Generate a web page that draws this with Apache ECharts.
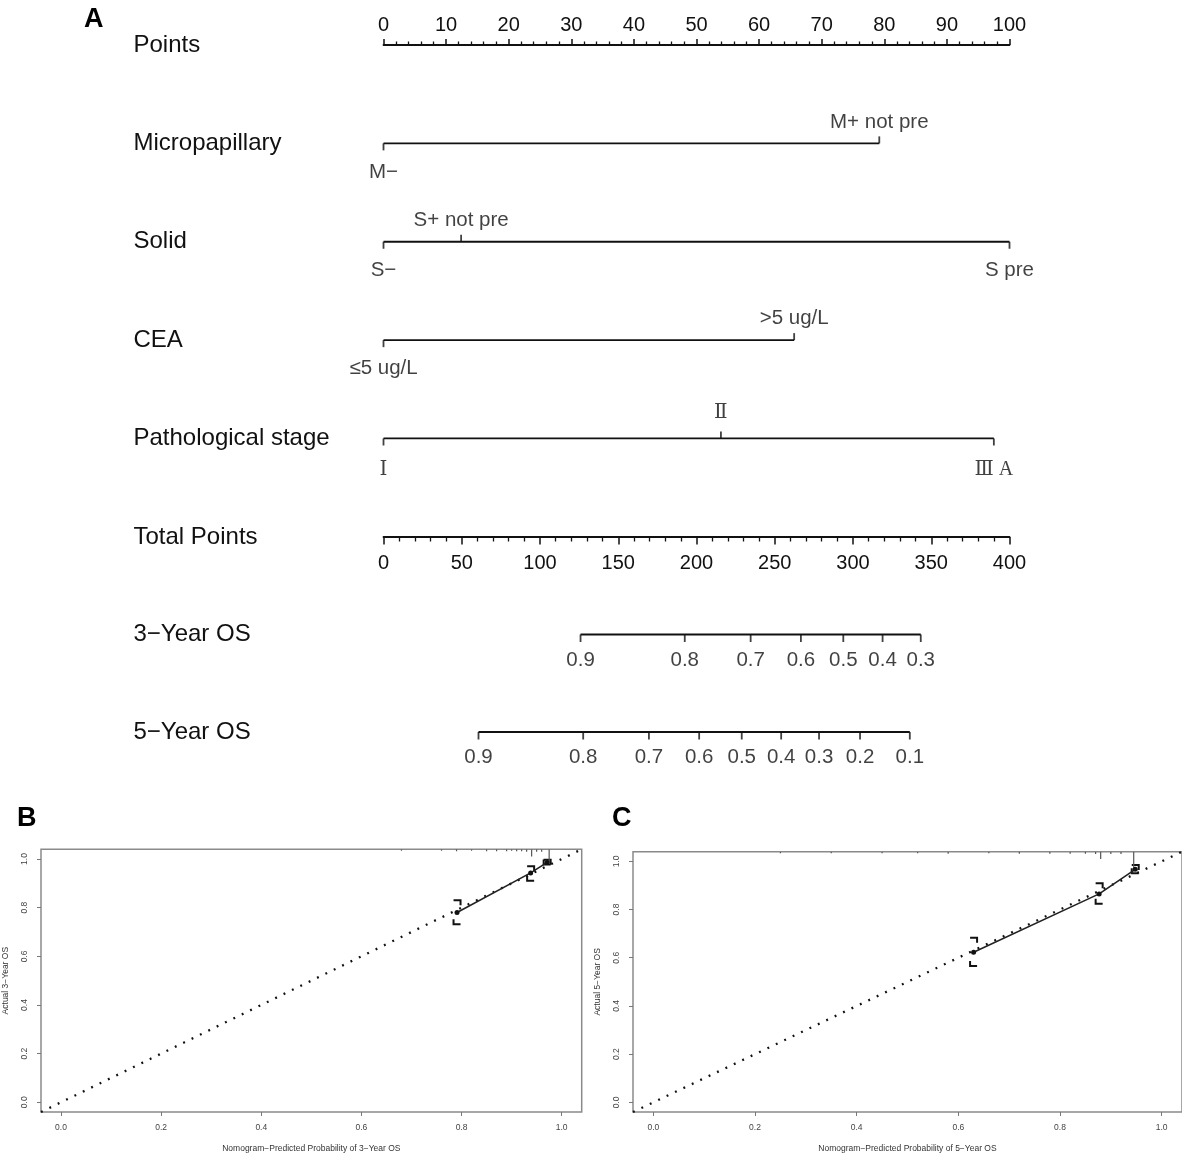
<!DOCTYPE html>
<html>
<head>
<meta charset="utf-8">
<script src="https://cdn.jsdelivr.net/npm/echarts@6/dist/echarts.min.js"></script>
<style>
html,body{margin:0;padding:0;background:#fff;}
#chart{width:1182px;height:1154px;}
</style>
</head>
<body>
<div id="chart"></div>
<script>
// ---------- Nomogram data ----------
const rowNamesTop = ['Points', 'Micropapillary', 'Solid', 'CEA', 'Pathological stage'];
const rowNamesBottom = ['Total Points', '3\u2212Year OS', '5\u2212Year OS'];

const pointsRange = [0, 100];
const totalPointsRange = [0, 400];

const microLevels = ['M\u2212', 'M+ not pre'];
const microPoints = [0, 79.2];
const solidLevels = ['S\u2212', 'S+ not pre', 'S pre'];
const solidPoints = [0, 12.4, 100];
const ceaLevels = ['\u22645 ug/L', '>5 ug/L'];
const ceaPoints = [0, 65.6];
const stageLevels = ['\u2160', '\u2161', '\u2162 A'];
const stagePoints = [0, 53.9, 97.5];

const os3Labels = ['0.9', '0.8', '0.7', '0.6', '0.5', '0.4', '0.3'];
const os3TotalPoints = [125.9, 192.5, 234.6, 266.7, 293.8, 318.9, 343.3];
const os5Labels = ['0.9', '0.8', '0.7', '0.6', '0.5', '0.4', '0.3', '0.2', '0.1'];
const os5TotalPoints = [60.7, 127.6, 169.6, 201.7, 228.9, 254.1, 278.3, 304.5, 336.3];

// ---------- Calibration data ----------
const calTicks = [0, 0.2, 0.4, 0.6, 0.8, 1.0];
const calRange = [-0.04, 1.04];

const cal3Pred = [0.791, 0.938, 0.971];
const cal3Obs  = [0.780, 0.943, 0.986];
const cal3Lo   = [0.732, 0.911, 0.978];
const cal3Hi   = [0.831, 0.970, 0.997];
const rug3X = [0.68, 0.76, 0.79, 0.82, 0.85, 0.87, 0.89, 0.90, 0.91, 0.92, 0.93, 0.94, 0.95, 0.96, 0.975];
const rug3H = [0.006, 0.006, 0.008, 0.006, 0.008, 0.008, 0.008, 0.006, 0.008, 0.008, 0.01, 0.03, 0.01, 0.01, 0.055];

const cal5Pred = [0.630, 0.877, 0.948];
const cal5Obs  = [0.623, 0.865, 0.967];
const cal5Lo   = [0.566, 0.824, 0.951];
const cal5Hi   = [0.683, 0.909, 0.985];
const rug5X = [0.25, 0.35, 0.45, 0.52, 0.58, 0.66, 0.72, 0.78, 0.82, 0.85, 0.87, 0.88, 0.90, 0.92, 0.945];
const rug5H = [0.006, 0.006, 0.006, 0.006, 0.008, 0.006, 0.008, 0.008, 0.008, 0.008, 0.01, 0.03, 0.01, 0.01, 0.07];

// ---------- Styling ----------
const SANS = '"Liberation Sans", Arial, Helvetica, sans-serif';
const SERIF = '"Liberation Serif", "DejaVu Serif", "Times New Roman", serif';
const INK = '#111111';

const chart = echarts.init(document.getElementById('chart'), null, {renderer: 'canvas'});

function variableSeries(levels, pts, row, serif) {
  const lo = Math.min.apply(null, pts), hi = Math.max.apply(null, pts);
  const line = {
    type: 'line', xAxisIndex: 0, yAxisIndex: 0, silent: true,
    data: [[lo, row], [hi, row]], symbol: 'none',
    lineStyle: {color: INK, width: 1.8}
  };
  const ticks = {
    type: 'scatter', xAxisIndex: 0, yAxisIndex: 0, silent: true,
    symbol: 'rect', symbolSize: [1.8, 7],
    itemStyle: {color: INK},
    data: pts.map(function (p, i) {
      const down = (i % 2 === 0);
      return {
        value: [p, row], name: levels[i],
        symbolOffset: [0, down ? 3.5 : -3.5],
        label: {
          show: true, position: down ? 'bottom' : 'top',
          distance: serif ? (down ? 14 : 9) : (down ? 11 : 4),
          formatter: '{b}', color: INK,
          fontFamily: serif ? SERIF : SANS, fontSize: serif ? 20 : 20.5
        }
      };
    })
  };
  return [line, ticks];
}

function osSeries(labels, pts, row) {
  const lo = Math.min.apply(null, pts), hi = Math.max.apply(null, pts);
  return [{
    type: 'line', xAxisIndex: 1, yAxisIndex: 1, silent: true,
    data: [[lo, row], [hi, row]], symbol: 'none',
    lineStyle: {color: INK, width: 1.8}
  }, {
    type: 'scatter', xAxisIndex: 1, yAxisIndex: 1, silent: true,
    symbol: 'rect', symbolSize: [1.8, 7.5],
    itemStyle: {color: INK},
    data: pts.map(function (p, i) {
      return {
        value: [p, row], name: labels[i], symbolOffset: [0, 3.75],
        label: {show: true, position: 'bottom', distance: 7.5, formatter: '{b}',
                color: INK, fontFamily: SANS, fontSize: 20.5}
      };
    })
  }];
}

function calAxisX(idx, name) {
  return {
    type: 'value', gridIndex: idx, min: calRange[0], max: calRange[1],
    name: name, nameLocation: 'middle', nameGap: 32,
    nameTextStyle: {fontFamily: SANS, fontSize: 8.5, color: '#333'},
    axisLine: {show: false, onZero: false},
    axisTick: {show: true, customValues: calTicks, length: 4, lineStyle: {color: '#777'}},
    axisLabel: {show: true, customValues: calTicks, margin: 11, fontFamily: SANS, fontSize: 8.5,
                color: '#444', formatter: function (v) { return v.toFixed(1); }},
    splitLine: {show: false}
  };
}
function calAxisY(idx, name) {
  return {
    type: 'value', gridIndex: idx, min: calRange[0], max: calRange[1],
    name: name, nameLocation: 'middle', nameGap: 31,
    nameTextStyle: {fontFamily: SANS, fontSize: 8.5, color: '#333'},
    axisLine: {show: false, onZero: false},
    axisTick: {show: true, customValues: calTicks, length: 4, lineStyle: {color: '#777'}},
    axisLabel: {show: true, customValues: calTicks, rotate: 90, margin: 12, fontFamily: SANS,
                fontSize: 8.5, color: '#444', formatter: function (v) { return v.toFixed(1); }},
    splitLine: {show: false}
  };
}

function calSeries(gi, pred, obs, lo, hi, rugX, rugH) {
  const axisIdx = {xAxisIndex: gi, yAxisIndex: gi};
  return [
    Object.assign({
      type: 'line', silent: true, symbol: 'none',
      data: [[calRange[0], calRange[0]], [calRange[1], calRange[1]]],
      lineStyle: {color: '#111', width: 2.3, type: [1.9, 7.4]}
    }, axisIdx),
    Object.assign({
      type: 'line', silent: true, symbol: 'circle', symbolSize: 5,
      data: pred.map(function (p, i) { return [p, obs[i]]; }),
      itemStyle: {color: '#111'},
      lineStyle: {color: '#222', width: 1.6}
    }, axisIdx),
    Object.assign({
      type: 'custom', silent: true, clip: true,
      data: pred.map(function (p, i) { return [p, lo[i], hi[i]]; }),
      renderItem: function (params, api) {
        const t = api.coord([api.value(0), api.value(2)]);
        const b = api.coord([api.value(0), api.value(1)]);
        const w = 3.5, s = 5;
        const st = {stroke: '#111', lineWidth: 2, fill: null};
        return {type: 'group', children: [
          {type: 'polyline', shape: {points: [[t[0] - w, t[1]], [t[0] + w, t[1]], [t[0] + w, t[1] + s]]}, style: st},
          {type: 'polyline', shape: {points: [[b[0] - w, b[1] - s], [b[0] - w, b[1]], [b[0] + w, b[1]]]}, style: st}
        ]};
      }
    }, axisIdx),
    Object.assign({
      type: 'custom', silent: true, clip: true,
      data: rugX.map(function (x, i) { return [x, rugH[i]]; }),
      renderItem: function (params, api) {
        const a = api.coord([api.value(0), calRange[1]]);
        const b = api.coord([api.value(0), calRange[1] - api.value(1)]);
        return {type: 'line', shape: {x1: a[0], y1: a[1], x2: b[0], y2: b[1]},
                style: {stroke: '#555', lineWidth: 1.2}};
      }
    }, axisIdx)
  ];
}

let series = [];
series = series.concat(variableSeries(microLevels, microPoints, 1, false));
series = series.concat(variableSeries(solidLevels, solidPoints, 2, false));
series = series.concat(variableSeries(ceaLevels, ceaPoints, 3, false));
series = series.concat(variableSeries(stageLevels, stagePoints, 4, true));
series = series.concat(osSeries(os3Labels, os3TotalPoints, 1));
series = series.concat(osSeries(os5Labels, os5TotalPoints, 2));
series = series.concat(calSeries(2, cal3Pred, cal3Obs, cal3Lo, cal3Hi, rug3X, rug3H));
series = series.concat(calSeries(3, cal5Pred, cal5Obs, cal5Lo, cal5Hi, rug5X, rug5H));

const rowLabelStyle = {show: true, align: 'left', margin: 250, fontSize: 24, color: INK, fontFamily: SANS,
                       padding: [8, 0, 0, 0]};

const option = {
  animation: false,
  backgroundColor: '#ffffff',
  textStyle: {fontFamily: SANS},
  graphic: [
    {type: 'text', left: 84, top: 6, style: {text: 'A', font: 'bold 27px ' + SANS, fill: '#000'}},
    {type: 'text', left: 17, top: 805, style: {text: 'B', font: 'bold 27px ' + SANS, fill: '#000'}},
    {type: 'text', left: 612, top: 805, style: {text: 'C', font: 'bold 27px ' + SANS, fill: '#000'}}
  ],
  grid: [
    {left: 383.5, top: 45, width: 626, height: 393.5, containLabel: false},
    {left: 383.5, top: 537, width: 626, height: 195, containLabel: false},
    {left: 39, top: 849.3, width: 542.7, height: 264.7, show: true, borderColor: '#8a8a8a', borderWidth: 1.5, backgroundColor: 'transparent'},
    {left: 633, top: 851.7, width: 550, height: 261.6, show: true, borderColor: '#8a8a8a', borderWidth: 1.5, backgroundColor: 'transparent'}
  ],
  xAxis: [
    {
      type: 'value', gridIndex: 0, position: 'top', min: pointsRange[0], max: pointsRange[1], interval: 10,
      axisLine: {show: true, onZero: false, lineStyle: {color: INK, width: 1.8}},
      axisTick: {show: true, length: 6, lineStyle: {color: INK, width: 1.5}},
      minorTick: {show: true, splitNumber: 5, length: 3.5, lineStyle: {color: INK, width: 1.3}},
      axisLabel: {show: true, margin: 10, fontSize: 20, color: INK, fontFamily: SANS},
      splitLine: {show: false}
    },
    {
      type: 'value', gridIndex: 1, position: 'top', min: totalPointsRange[0], max: totalPointsRange[1], interval: 50,
      axisLine: {show: true, onZero: false, lineStyle: {color: INK, width: 1.8}},
      axisTick: {show: true, inside: true, length: 7.5, lineStyle: {color: INK, width: 1.5}},
      minorTick: {show: true, splitNumber: 5, length: 4.5, lineStyle: {color: INK, width: 1.3}},
      axisLabel: {show: true, inside: true, margin: 16, fontSize: 20, color: INK, fontFamily: SANS},
      splitLine: {show: false}
    },
    calAxisX(2, 'Nomogram\u2212Predicted Probability of 3\u2212Year OS'),
    calAxisX(3, 'Nomogram\u2212Predicted Probability of 5\u2212Year OS')
  ],
  yAxis: [
    {
      type: 'value', gridIndex: 0, min: 0, max: 4, interval: 1, inverse: true,
      axisLine: {show: false, onZero: false}, axisTick: {show: false}, splitLine: {show: false},
      axisLabel: Object.assign({formatter: function (v) { return rowNamesTop[v] || ''; }}, rowLabelStyle)
    },
    {
      type: 'value', gridIndex: 1, min: 0, max: 2, interval: 1, inverse: true,
      axisLine: {show: false, onZero: false}, axisTick: {show: false}, splitLine: {show: false},
      axisLabel: Object.assign({formatter: function (v) { return rowNamesBottom[v] || ''; }}, rowLabelStyle)
    },
    calAxisY(2, 'Actual 3\u2212Year OS'),
    calAxisY(3, 'Actual 5\u2212Year OS')
  ],
  series: series
};
chart.setOption(option);
</script>
</body>
</html>
